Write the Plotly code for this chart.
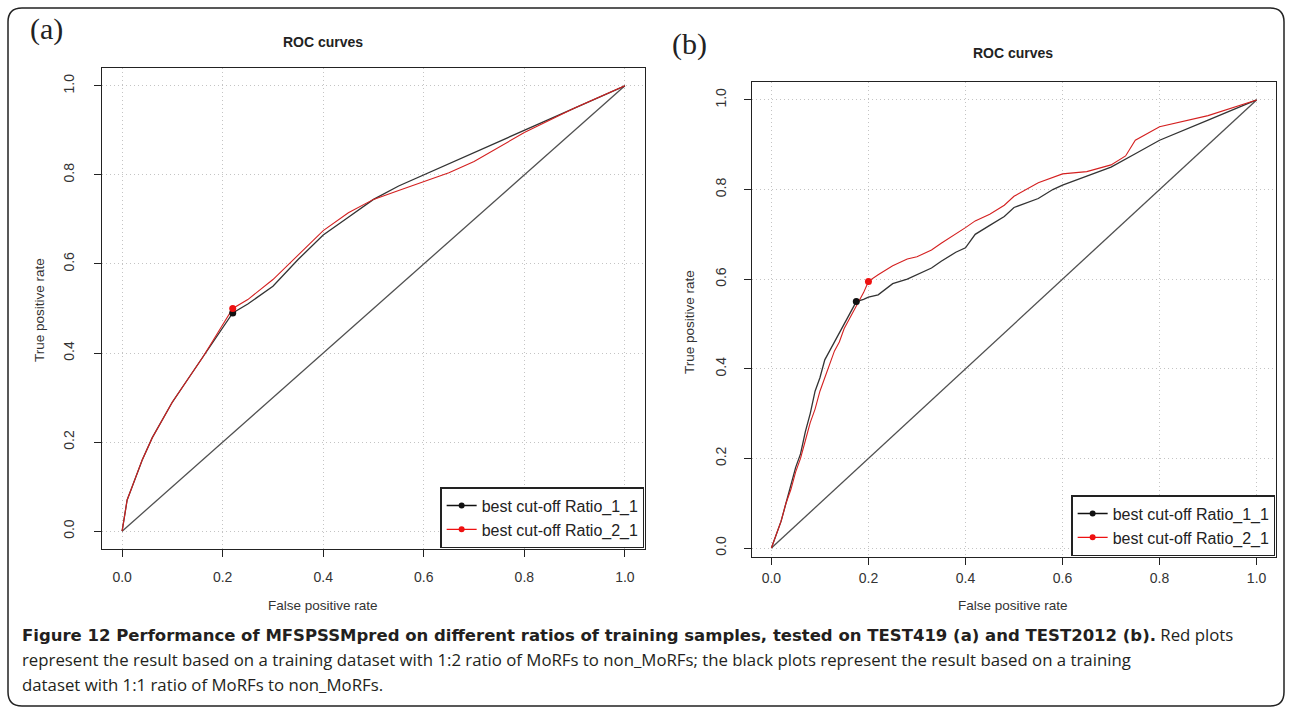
import plotly.graph_objects as go

W, H = 1292, 713

# ---------------- data ----------------
# Panel (a): TEST419
a_fpr_11 = [0.0, 0.005, 0.01, 0.02, 0.04, 0.06, 0.08, 0.10, 0.13, 0.16, 0.19, 0.22,
            0.25, 0.30, 0.35, 0.40, 0.45, 0.50, 0.55, 0.60, 0.65, 0.70, 0.80, 0.90, 1.0]
a_tpr_11 = [0.0, 0.04, 0.07, 0.10, 0.16, 0.21, 0.25, 0.29, 0.34, 0.39, 0.44, 0.49,
            0.51, 0.55, 0.61, 0.665, 0.705, 0.745, 0.775, 0.80, 0.825, 0.85, 0.90, 0.95, 1.0]
a_fpr_21 = [0.0, 0.005, 0.01, 0.02, 0.04, 0.06, 0.08, 0.10, 0.13, 0.16, 0.19, 0.22,
            0.25, 0.30, 0.35, 0.40, 0.45, 0.50, 0.55, 0.60, 0.65, 0.70, 0.80, 0.90, 1.0]
a_tpr_21 = [0.0, 0.04, 0.07, 0.10, 0.16, 0.21, 0.25, 0.29, 0.34, 0.39, 0.445, 0.50,
            0.52, 0.565, 0.62, 0.675, 0.715, 0.745, 0.765, 0.785, 0.805, 0.83, 0.895, 0.95, 1.0]
a_cut_11 = (0.22, 0.49)
a_cut_21 = (0.22, 0.50)

# Panel (b): TEST2012
b_fpr_11 = [0.0, 0.01, 0.02, 0.03, 0.04, 0.05, 0.06, 0.07, 0.08, 0.09, 0.10, 0.11, 0.12, 0.13,
            0.14, 0.155, 0.165, 0.175, 0.19, 0.20, 0.22, 0.25, 0.28, 0.30, 0.33, 0.35, 0.38,
            0.40, 0.42, 0.45, 0.48, 0.50, 0.55, 0.58, 0.60, 0.65, 0.70, 0.75, 0.80, 0.90, 1.0]
b_tpr_11 = [0.0, 0.03, 0.06, 0.10, 0.14, 0.18, 0.21, 0.26, 0.30, 0.35, 0.38, 0.42, 0.44, 0.46,
            0.48, 0.51, 0.53, 0.55, 0.555, 0.56, 0.565, 0.59, 0.60, 0.61, 0.625, 0.64, 0.66,
            0.67, 0.70, 0.72, 0.74, 0.76, 0.78, 0.80, 0.81, 0.83, 0.85, 0.88, 0.91, 0.955, 1.0]
b_fpr_21 = [0.0, 0.01, 0.02, 0.03, 0.04, 0.05, 0.06, 0.07, 0.08, 0.09, 0.10, 0.11, 0.12, 0.13,
            0.14, 0.15, 0.16, 0.175, 0.19, 0.20, 0.22, 0.25, 0.28, 0.30, 0.33, 0.35, 0.38,
            0.40, 0.42, 0.45, 0.48, 0.50, 0.55, 0.60, 0.65, 0.70, 0.73, 0.75, 0.80, 0.90, 1.0]
b_tpr_21 = [0.0, 0.03, 0.06, 0.10, 0.13, 0.17, 0.20, 0.24, 0.28, 0.31, 0.35, 0.38, 0.41, 0.44,
            0.46, 0.49, 0.51, 0.54, 0.57, 0.595, 0.61, 0.63, 0.645, 0.65, 0.665, 0.68, 0.70,
            0.715, 0.73, 0.745, 0.765, 0.785, 0.815, 0.835, 0.84, 0.855, 0.875, 0.91, 0.94, 0.965, 1.0]
b_cut_11 = (0.175, 0.55)
b_cut_21 = (0.20, 0.595)

diag = [0.0, 1.0]
ticks = [0.0, 0.2, 0.4, 0.6, 0.8, 1.0]
tick_text = ["0.0", "0.2", "0.4", "0.6", "0.8", "1.0"]
legend_names = ["best cut-off Ratio_1_1", "best cut-off Ratio_2_1"]

caption_bold = ("Figure 12 Performance of MFSPSSMpred on different ratios of training samples, "
                "tested on TEST419 (a) and TEST2012 (b).")
caption_lines = [
    '<span style="font-family:DejaVu Sans;font-size:16.5px"><b>' + caption_bold + "</b></span> Red plots",
    "represent the result based on a training dataset with 1:2 ratio of MoRFs to non_MoRFs; "
    "the black plots represent the result based on a training",
    "dataset with 1:1 ratio of MoRFs to non_MoRFs.",
]

# ---------------- layout helpers ----------------
def px(x):
    return x / W

def py(y):
    return 1 - y / H

BLACK = "#111111"
RED = "#d42020"
GREY = "#505050"

fig = go.Figure()

panels = [
    dict(x="x", y="y", leg="legend", dom_x=(102, 645), dom_y=(68, 549), yr=[-0.04, 1.04],
         xstand=8, ystand=14,
         d=(a_fpr_11, a_tpr_11, a_fpr_21, a_tpr_21, a_cut_11, a_cut_21)),
    dict(x="x2", y="y2", leg="legend2", dom_x=(752, 1276), dom_y=(82, 557), yr=[-0.02, 1.04],
         xstand=1, ystand=12,
         d=(b_fpr_11, b_tpr_11, b_fpr_21, b_tpr_21, b_cut_11, b_cut_21)),
]

for p in panels:
    f11, t11, f21, t21, c11, c21 = p["d"]
    fig.add_trace(go.Scatter(x=diag, y=diag, mode="lines", line=dict(color=GREY, width=1.3),
                             xaxis=p["x"], yaxis=p["y"], showlegend=False, hoverinfo="skip"))
    fig.add_trace(go.Scatter(x=f11, y=t11, mode="lines", line=dict(color="#333333", width=1.3),
                             xaxis=p["x"], yaxis=p["y"], showlegend=False))
    fig.add_trace(go.Scatter(x=f21, y=t21, mode="lines", line=dict(color=RED, width=1.1),
                             xaxis=p["x"], yaxis=p["y"], showlegend=False))
    fig.add_trace(go.Scatter(x=[c11[0]], y=[c11[1]], mode="markers",
                             marker=dict(color=BLACK, size=7), xaxis=p["x"], yaxis=p["y"],
                             showlegend=False))
    fig.add_trace(go.Scatter(x=[c21[0]], y=[c21[1]], mode="markers",
                             marker=dict(color="#ee1111", size=7), xaxis=p["x"], yaxis=p["y"],
                             showlegend=False))
    for name, col in zip(legend_names, [BLACK, "#ee1111"]):
        fig.add_trace(go.Scatter(x=[None], y=[None], mode="lines+markers", name=name,
                                 line=dict(color=col, width=1.3), marker=dict(color=col, size=6),
                                 xaxis=p["x"], yaxis=p["y"], legend=p["leg"]))

sans = "Liberation Sans, Arial, sans-serif"
axis_common = dict(
    tickvals=ticks, ticktext=tick_text, showgrid=True,
    gridcolor="#c4c4c4", griddash="1px,3px", gridwidth=1.2, zeroline=False,
    showline=True, linecolor="#222222", linewidth=1.3, mirror=True,
    ticks="outside", ticklen=7, tickcolor="#222222", tickwidth=1.3,
    tickfont=dict(family=sans, size=14, color="#333333"),
)

layout = dict(
    width=W, height=H, margin=dict(l=0, r=0, t=0, b=0),
    paper_bgcolor="white", plot_bgcolor="white", showlegend=True,
)
for i, p in enumerate(panels):
    sfx = "" if i == 0 else "2"
    layout["xaxis" + sfx] = dict(axis_common, range=[-0.04, 1.04],
                                 domain=[px(p["dom_x"][0]), px(p["dom_x"][1])],
                                 anchor="y" + sfx, ticklabelstandoff=p["xstand"])
    layout["yaxis" + sfx] = dict(axis_common, range=p["yr"],
                                 domain=[py(p["dom_y"][1]), py(p["dom_y"][0])],
                                 anchor="x" + sfx, tickangle=-90, ticklabelstandoff=p["ystand"])
    layout["legend" if i == 0 else "legend2"] = dict(
        x=px(p["dom_x"][1]) - 0.0005, y=py(p["dom_y"][1]) + 0.001, xanchor="right", yanchor="bottom",
        xref="paper", yref="paper",
        bordercolor="#222222", borderwidth=1.3, bgcolor="white",
        font=dict(family=sans, size=16, color="#222222"),
        tracegroupgap=0, itemwidth=30,
    )
fig.update_layout(**layout)

annos = []
serif = "Liberation Serif, Times New Roman, serif"
annos.append(dict(x=px(46), y=py(29), text="(a)", font=dict(family=serif, size=30, color="#222")))
annos.append(dict(x=px(689), y=py(44), text="(b)", font=dict(family=serif, size=30, color="#222")))
annos.append(dict(x=px(323), y=py(42), text="<b>ROC curves</b>", font=dict(family=sans, size=14, color="#222")))
annos.append(dict(x=px(1013), y=py(53), text="<b>ROC curves</b>", font=dict(family=sans, size=14, color="#222")))
annos.append(dict(x=px(323), y=py(605), text="False positive rate", font=dict(family=sans, size=13.5, color="#333")))
annos.append(dict(x=px(1013), y=py(605), text="False positive rate", font=dict(family=sans, size=13.5, color="#333")))
annos.append(dict(x=px(40), y=py(310), text="True positive rate", textangle=-90, font=dict(family=sans, size=13.5, color="#333")))
annos.append(dict(x=px(689), y=py(322), text="True positive rate", textangle=-90, font=dict(family=sans, size=13.5, color="#333")))
for k, line in enumerate(caption_lines):
    annos.append(dict(x=px(20), y=py(634 + 25 * k), text=line, xanchor="left",
                      font=dict(family="Open Sans, Noto Sans, sans-serif", size=16.8, color="#231f20")))
for a in annos:
    a.setdefault("xref", "paper")
    a.setdefault("yref", "paper")
    a.setdefault("showarrow", False)
    a.setdefault("xanchor", "center")
    a.setdefault("yanchor", "middle")
fig.update_layout(annotations=annos)

# rounded border around the whole figure
x0, x1, y0, y1, r = px(8), px(1284), py(706), py(8), 14
rx, ry = r / W, r / H
path = (f"M {x0+rx},{y1} L {x1-rx},{y1} Q {x1},{y1} {x1},{y1-ry} "
        f"L {x1},{y0+ry} Q {x1},{y0} {x1-rx},{y0} L {x0+rx},{y0} Q {x0},{y0} {x0},{y0+ry} "
        f"L {x0},{y1-ry} Q {x0},{y1} {x0+rx},{y1} Z")
fig.add_shape(type="path", path=path, xref="paper", yref="paper", line=dict(color="#222", width=1.5))

fig.write_html("out.html")
